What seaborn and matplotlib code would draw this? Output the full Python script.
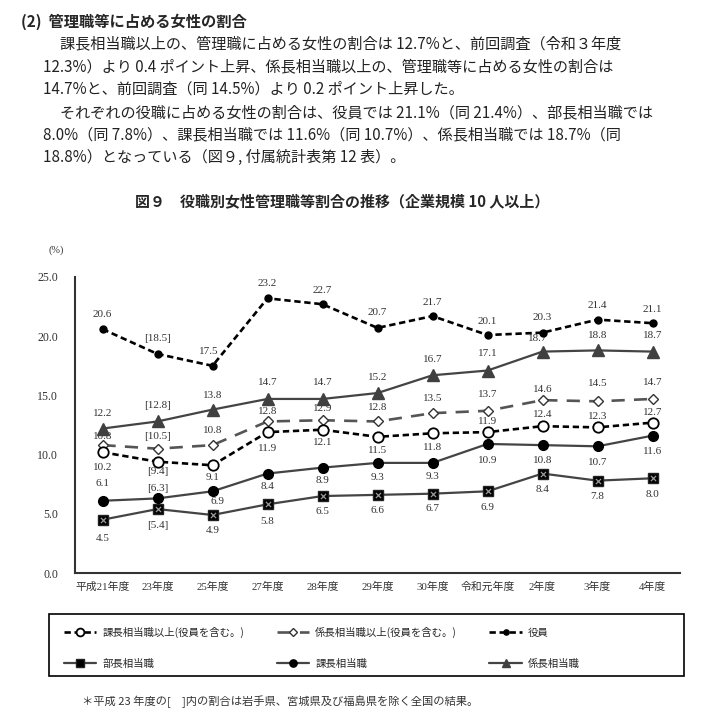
import matplotlib
matplotlib.use("Agg")
import matplotlib.pyplot as plt
import seaborn as sns
import pandas as pd
from matplotlib.patches import Rectangle
from matplotlib.lines import Line2D

# ---------------- data ----------------
years = ["平成21年度", "23年度", "25年度", "27年度", "28年度", "29年度",
         "30年度", "令和元年度", "2年度", "3年度", "4年度"]
kacho_ijo = [10.2, 9.4, 9.1, 11.9, 12.1, 11.5, 11.8, 11.9, 12.4, 12.3, 12.7]
kakaricho_ijo = [10.8, 10.5, 10.8, 12.8, 12.9, 12.8, 13.5, 13.7, 14.6, 14.5, 14.7]
yakuin = [20.6, 18.5, 17.5, 23.2, 22.7, 20.7, 21.7, 20.1, 20.3, 21.4, 21.1]
bucho = [4.5, 5.4, 4.9, 5.8, 6.5, 6.6, 6.7, 6.9, 8.4, 7.8, 8.0]
kacho = [6.1, 6.3, 6.9, 8.4, 8.9, 9.3, 9.3, 10.9, 10.8, 10.7, 11.6]
kakaricho = [12.2, 12.8, 13.8, 14.7, 14.7, 15.2, 16.7, 17.1, 18.7, 18.8, 18.7]
series_names = ["課長相当職以上(役員を含む。)", "係長相当職以上(役員を含む。)", "役員",
                "部長相当職", "課長相当職", "係長相当職"]
series_values = [kacho_ijo, kakaricho_ijo, yakuin, bucho, kacho, kakaricho]
bracket_index = 1  # 平成23年度: values shown in [ ]
yticks = [0.0, 5.0, 10.0, 15.0, 20.0, 25.0]

heading = "(2)  管理職等に占める女性の割合"
paragraph = [
    "課長相当職以上の、管理職に占める女性の割合は 12.7%と、前回調査（令和３年度",
    "12.3%）より 0.4 ポイント上昇、係長相当職以上の、管理職等に占める女性の割合は",
    "14.7%と、前回調査（同 14.5%）より 0.2 ポイント上昇した。",
    "それぞれの役職に占める女性の割合は、役員では 21.1%（同 21.4%）、部長相当職では",
    "8.0%（同 7.8%）、課長相当職では 11.6%（同 10.7%）、係長相当職では 18.7%（同",
    "18.8%）となっている（図９, 付属統計表第 12 表）。",
]
chart_title = "図９　役職別女性管理職等割合の推移（企業規模 10 人以上）"
footnote = "＊平成 23 年度の[　]内の割合は岩手県、宮城県及び福島県を除く全国の結果。"

# ---------------- styles (not data): label offsets in pixels (+ = below) ----------------
label_dy = [
    [15, 10, 12, 16, 13, 14, 14, -11, -12, -11, -10],
    [-9, -12, -15, -10, -12, -14, -15, -16, -11, -18, -16],
    [-15, -15, -14, -15, -14, -15, -14, -14, -15, -14, -14],
    [19, 16, 16, 17, 15, 16, 15, 16, 16, 16, 16],
    [-17, -10, 10, 13, 13, 15, 14, 17, 15, 16, 16],
    [-15, -16, -14, -16, -16, -16, -16, -17, -13, -15, -16],
]
label_dx = {(2, 2): -4, (4, 2): 5, (5, 8): -5}
styles = [
    dict(color="black", lw=1.9, linestyle=(0, (2.4, 1.4)), marker="o", markersize=7.5,
         markerfacecolor="white", markeredgecolor="black", markeredgewidth=1.3, zorder=6),
    dict(color="#555555", lw=1.9, linestyle=(0, (5, 3.5)), marker="D", markersize=5,
         markerfacecolor="white", markeredgecolor="#333333", markeredgewidth=1.0, zorder=5),
    dict(color="black", lw=1.9, linestyle=(0, (2.4, 1.4)), marker="o", markersize=5,
         markerfacecolor="black", markeredgecolor="black", markeredgewidth=1.0, zorder=5),
    dict(color="#444444", lw=1.6, linestyle="-", marker="s", markersize=7,
         markerfacecolor="black", markeredgecolor="#222222", markeredgewidth=1.0, zorder=4),
    dict(color="#444444", lw=1.6, linestyle="-", marker="o", markersize=7,
         markerfacecolor="black", markeredgecolor="black", markeredgewidth=1.0, zorder=4),
    dict(color="#444444", lw=1.6, linestyle="-", marker="^", markersize=8,
         markerfacecolor="#404040", markeredgecolor="#404040", markeredgewidth=1.0, zorder=4),
]

sns.set_theme(style="white")
plt.rcParams["font.family"] = ["Noto Sans CJK JP", "DejaVu Sans"]
num_font = ["Liberation Serif", "Noto Sans CJK JP"]

W, H = 708, 727
fig = plt.figure(figsize=(W / 100, H / 100), dpi=100)
fig.patch.set_facecolor("white")
PT = 0.72  # points per pixel at 100 dpi

def fx(px):
    return px / W

def fy(py):
    return 1 - py / H

# ---------------- text block ----------------
fig.text(fx(21), fy(22), heading, fontsize=11, fontweight="bold", va="center", ha="left")
para_x = [60, 43, 43, 60, 43, 43]
para_y = [44, 67, 89, 113, 135, 157]
for t, x, y in zip(paragraph, para_x, para_y):
    fig.text(fx(x), fy(y), t, fontsize=10.9, va="center", ha="left", color="#222222")
fig.text(fx(342), fy(201), chart_title, fontsize=10.8, fontweight="bold", va="center", ha="center")
fig.text(fx(56), fy(250), "(%)", fontsize=7.5, va="center", ha="center", family=num_font,
         color="#333333")

# ---------------- chart ----------------
ax = fig.add_axes([fx(75), fy(573), fx(680) - fx(75), fy(277) - fy(573)])
xpos = list(range(len(years)))
for k, (vals, st) in enumerate(zip(series_values, styles)):
    df = pd.DataFrame({"x": xpos, "y": vals})
    sns.lineplot(data=df, x="x", y="y", ax=ax, legend=False, **st)
    for i, v in enumerate(vals):
        txt = f"[{v:.1f}]" if i == bracket_index else f"{v:.1f}"
        dx = label_dx.get((k, i), 0)
        ax.annotate(txt, (i, v), xytext=(dx * PT, -label_dy[k][i] * PT),
                    textcoords="offset points", ha="center", va="center",
                    fontsize=8.0, family=num_font, color="#333333")

# light cross on 部長相当職 squares
sns.scatterplot(x=xpos, y=bucho, ax=ax, marker="x", s=14, color="#9a9a9a",
                linewidth=0.9, zorder=7, legend=False)

ax.set_xlim(-0.5, len(years) - 0.5)
ax.set_ylim(0, 25)
ax.set_xticks(xpos)
ax.set_xticklabels(years, family=num_font, fontsize=7.8, color="#333333")
ax.set_xticks([i + 0.5 for i in range(len(years))], minor=True)
ax.set_yticks(yticks)
ax.set_yticklabels([f"{v:.1f}" for v in yticks], family=num_font, fontsize=8.6, color="#333333")
ax.tick_params(axis="x", which="major", length=0, pad=6)
ax.tick_params(axis="x", which="minor", direction="in", length=4, width=1.2, color="#333333")
ax.tick_params(axis="y", which="major", direction="in", length=4, width=1.2, color="#333333", pad=12)
ax.set_xlabel("")
ax.set_ylabel("")
for s in ["top", "right"]:
    ax.spines[s].set_visible(False)
for s in ["left", "bottom"]:
    ax.spines[s].set_color("#333333")
    ax.spines[s].set_linewidth(1.5)
ax.set_facecolor("white")
ax.grid(False)

# ---------------- legend ----------------
handles = []
for st in styles:
    h = Line2D([], [], color=st["color"], lw=st["lw"], linestyle=st["linestyle"],
               marker=st["marker"], markersize=st["markersize"] * 0.75,
               markerfacecolor=st["markerfacecolor"], markeredgecolor=st["markeredgecolor"],
               markeredgewidth=st["markeredgewidth"])
    handles.append(h)
order = [0, 3, 1, 4, 2, 5]
fig.legend([handles[i] for i in order], [series_names[i] for i in order], ncol=3,
           loc="upper left", bbox_to_anchor=(fx(64), fy(627)), frameon=False,
           fontsize=7.5, handlelength=3.1, handletextpad=0.6, columnspacing=3.1,
           labelspacing=2.0, borderpad=0, borderaxespad=0)
fig.patches.append(Rectangle((fx(49), fy(676)), fx(684) - fx(49), fy(614) - fy(676),
                             transform=fig.transFigure, fill=False, edgecolor="black", lw=1.2))

fig.text(fx(82), fy(702), footnote, fontsize=8.1, va="center", ha="left", color="#333333")

fig.savefig("out.png", dpi=100, facecolor="white")
